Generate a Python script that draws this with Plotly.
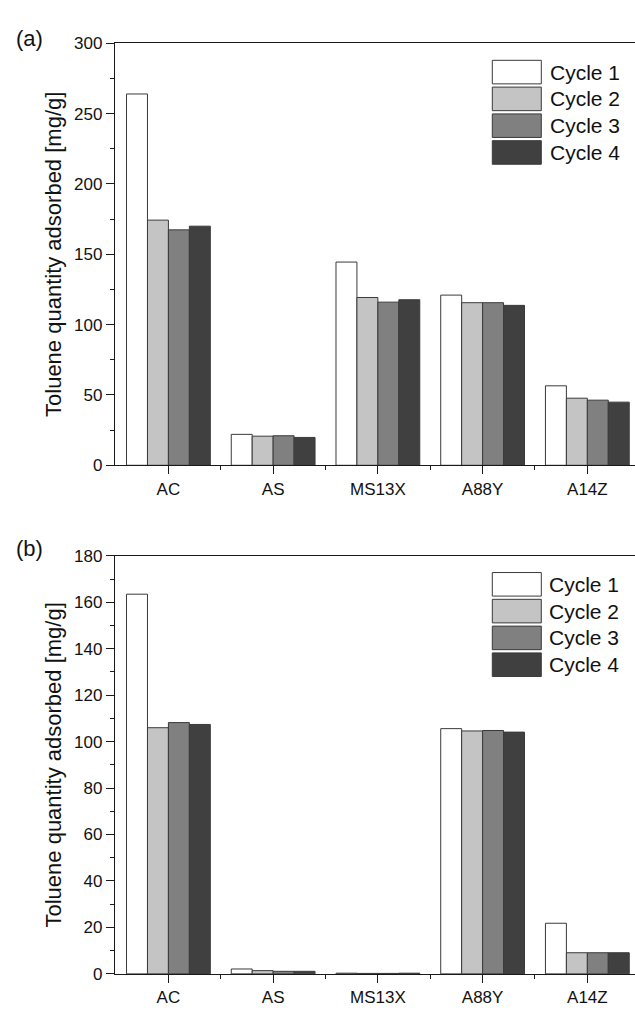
import plotly.graph_objects as go
from plotly.subplots import make_subplots

categories = ["AC", "AS", "MS13X", "A88Y", "A14Z"]
cycle_names = ["Cycle 1", "Cycle 2", "Cycle 3", "Cycle 4"]
cycle_colors = ["#ffffff", "#c4c4c4", "#808080", "#404040"]

# Panel (a)
a_cycle1 = [264.0, 22.0, 144.5, 121.0, 56.5]
a_cycle2 = [174.3, 20.7, 119.3, 115.6, 47.7]
a_cycle3 = [167.4, 21.0, 116.0, 115.6, 46.3]
a_cycle4 = [170.0, 19.8, 117.7, 113.7, 44.9]

# Panel (b)
b_cycle1 = [163.5, 2.1, 0.3, 105.6, 21.8]
b_cycle2 = [106.0, 1.4, 0.2, 104.6, 9.1]
b_cycle3 = [108.2, 1.1, 0.2, 104.8, 9.1]
b_cycle4 = [107.4, 1.1, 0.3, 104.1, 9.1]

panel_a = [a_cycle1, a_cycle2, a_cycle3, a_cycle4]
panel_b = [b_cycle1, b_cycle2, b_cycle3, b_cycle4]

FONT = "Liberation Sans, Arial, sans-serif"
W, H = 635, 1014

fig = make_subplots(rows=2, cols=1)
xpos = list(range(len(categories)))

for row, panel in ((1, panel_a), (2, panel_b)):
    for name, color, vals in zip(cycle_names, cycle_colors, panel):
        fig.add_trace(go.Bar(x=xpos, y=vals, name=name, showlegend=False,
                             marker=dict(color=color, line=dict(color="#3a3a3a", width=1))),
                      row=row, col=1)

x_dom = [115 / W, 1.0]
ya_dom = [(H - 465) / H, (H - 35) / H]
yb_dom = [(H - 983.3) / H, (H - 557.3) / H]

xcommon = dict(range=[-0.51, 4.455], tickvals=xpos, ticktext=categories,
               showline=True, linecolor="#1a1a1a", linewidth=1.3, mirror=True,
               ticks="outside", ticklen=8, tickwidth=1.2, tickcolor="#1a1a1a",
               minor=dict(tickvals=[i + 0.5 for i in xpos[:-1]], ticks="outside",
                          ticklen=4, tickwidth=1.2, tickcolor="#1a1a1a"),
               showgrid=False, zeroline=False, domain=x_dom,
               tickfont=dict(family=FONT, size=17, color="#111"))
fig.update_xaxes(**xcommon)

ycommon = dict(showline=True, linecolor="#1a1a1a", linewidth=1.3, mirror=False,
               ticks="outside", ticklen=8, tickwidth=1.2, tickcolor="#1a1a1a",
               showgrid=False, zeroline=False,
               tickfont=dict(family=FONT, size=17, color="#111"),
               title=dict(text="Toluene quantity adsorbed [mg/g]", standoff=6,
                          font=dict(family=FONT, size=22, color="#111")))
fig.update_yaxes(**ycommon)
fig.update_yaxes(range=[0, 300], dtick=50, tick0=0,
                 minor=dict(dtick=25, ticks="outside", ticklen=4, tickwidth=1.2, tickcolor="#1a1a1a"),
                 domain=ya_dom, row=1, col=1)
fig.update_yaxes(range=[0, 180], dtick=20, tick0=0,
                 minor=dict(dtick=10, ticks="outside", ticklen=4, tickwidth=1.2, tickcolor="#1a1a1a"),
                 domain=yb_dom, row=2, col=1)

shapes = []
annotations = []
# custom legends (large swatches as in the reference)
for top0, in_x in ((52.3, 548), (574.3, 547.3)):
    for i, (name, color) in enumerate(zip(cycle_names, cycle_colors)):
        y0 = top0 + i * 27.3
        y1 = y0 + 24
        shapes.append(dict(type="rect", xref="paper", yref="paper",
                           x0=492.3 / W, x1=541.3 / W, y0=(H - y1) / H, y1=(H - y0) / H,
                           fillcolor=color, line=dict(color="#3a3a3a", width=1)))
        annotations.append(dict(text=name, xref="paper", yref="paper", x=in_x / W,
                                y=(H - (y0 + 12)) / H, xanchor="left", yanchor="middle",
                                showarrow=False, font=dict(family=FONT, size=21, color="#111")))

for label, ycen in (("(a)", 30), ("(b)", 550)):
    annotations.append(dict(text=label, xref="paper", yref="paper", x=14 / W, y=(H - ycen) / H,
                            xanchor="left", yanchor="middle", showarrow=False,
                            font=dict(family=FONT, size=22, color="#111")))

fig.update_layout(width=W, height=H, margin=dict(l=0, r=0, t=0, b=0),
                  paper_bgcolor="white", plot_bgcolor="white",
                  barmode="group", bargap=0.2, bargroupgap=0,
                  shapes=shapes, annotations=annotations,
                  font=dict(family=FONT, color="#111"))

fig.write_html("out.html")
